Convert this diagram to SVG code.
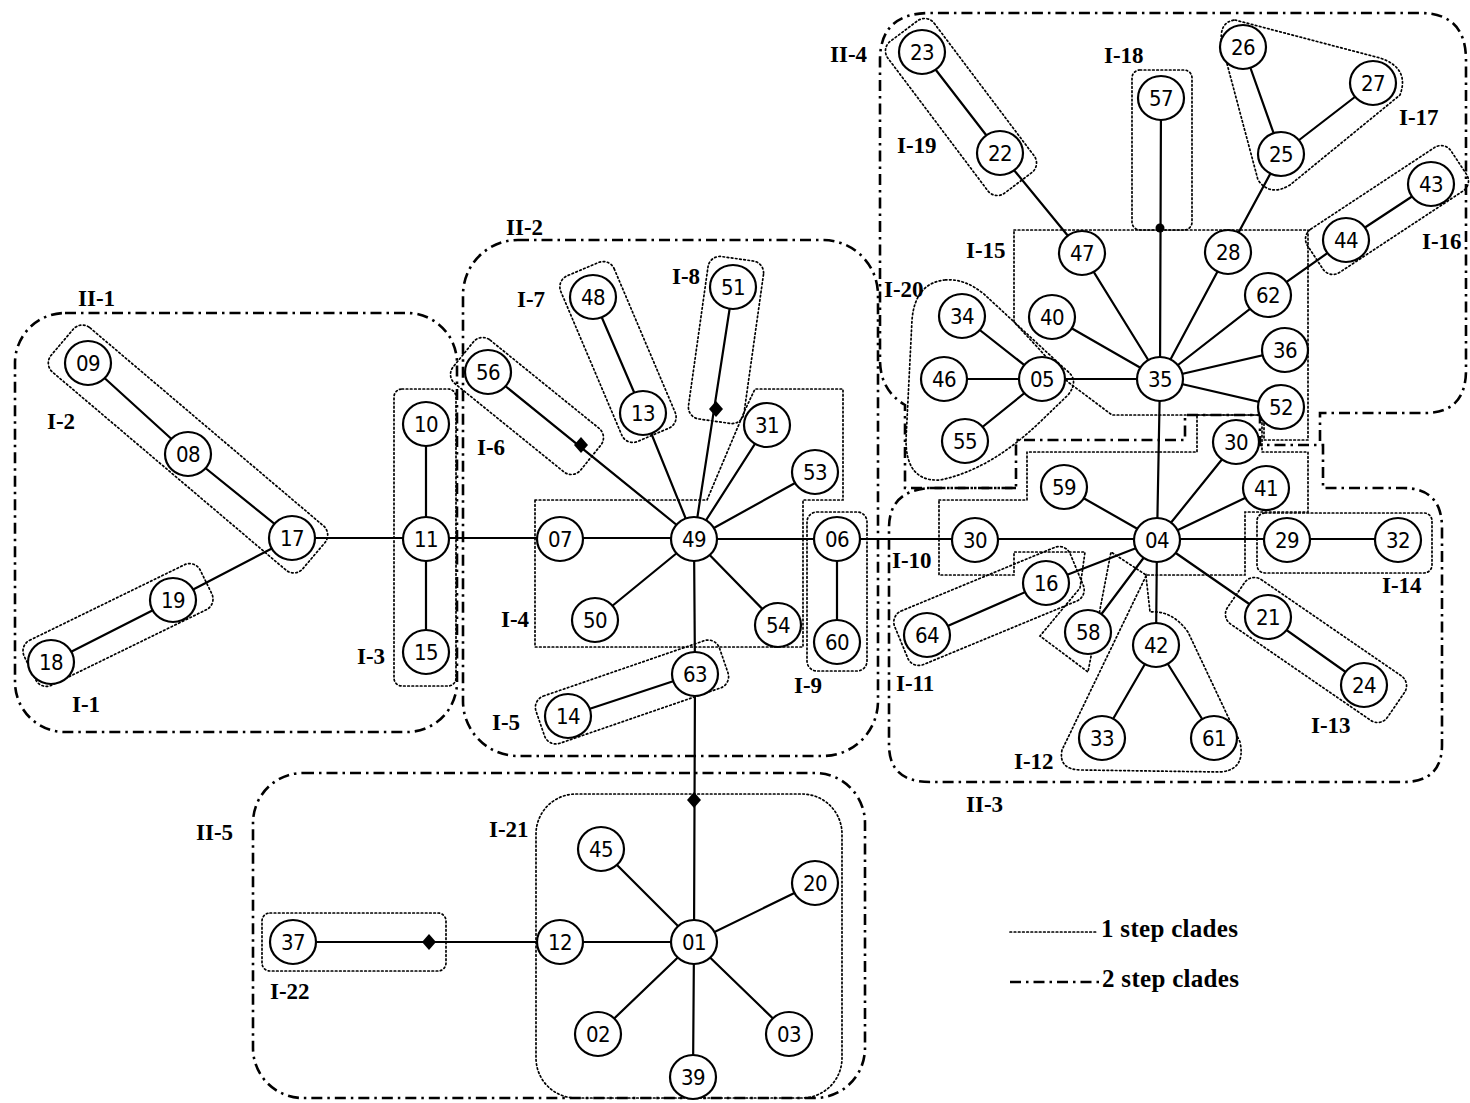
<svg xmlns="http://www.w3.org/2000/svg" width="1470" height="1103" viewBox="0 0 1470 1103">
<style>
.bg{fill:#fff}
.c1{fill:none;stroke:#000;stroke-width:1.7;stroke-dasharray:1.6 2.6;stroke-linecap:round}
.c2{fill:none;stroke:#000;stroke-width:2.6;stroke-dasharray:11 5 2.5 5}
.e{stroke:#000;stroke-width:2.2;fill:none}
.n use{fill:#fff;stroke:#000;stroke-width:2.2}
.n text{font-family:'DejaVu Sans Condensed','DejaVu Sans',sans-serif;font-stretch:condensed;font-size:22px;text-anchor:middle;fill:#000;letter-spacing:-0.5px}
.lb{font-family:'Liberation Serif','Times New Roman',serif;font-weight:bold;font-size:23px;fill:#000}
.lg{font-family:'Liberation Serif','Times New Roman',serif;font-weight:bold;font-size:25px;fill:#000;letter-spacing:0.3px}
.dm{fill:#000}
</style>
<defs>
<ellipse id="nd" rx="23" ry="22"/>
<path id="dia" d="M0,-8 L7,0 L0,8 L-7,0 Z"/>
</defs>
<rect class="bg" width="1470" height="1103"/>

<g id="clades2">
<rect class="c2" x="15" y="313" width="442" height="419" rx="50"/>
<rect class="c2" x="463" y="240" width="415" height="516" rx="55"/>
<rect class="c2" x="253" y="773" width="612" height="325" rx="50"/>
<path class="c2" d="M931,488 H1016 V440 H1185 V415 H1260 V445 H1323 V488 H1403 Q1442,488 1442,528 V745 Q1442,782 1403,782 H930 Q889,782 889,745 V528 Q889,490 931,488 Z"/>
<path class="c2" d="M1016,488 H905 V405 Q880,390 880,360 V60 Q880,13 930,13 H1420 Q1466,13 1466,60 V370 Q1466,413 1425,413 H1320 V445"/>
</g>

<g id="clades1">
<rect class="c1" x="-165" y="-29" width="330" height="58" rx="12" transform="translate(188,449) rotate(40.3)"/>
<rect class="c1" x="-98" y="-25" width="196" height="50" rx="12" transform="translate(118,625) rotate(-26)"/>
<rect class="c1" x="394" y="389" width="62" height="297" rx="8"/>
<rect class="c1" x="-82" y="-28" width="164" height="56" rx="12" transform="translate(527,406) rotate(39)"/>
<rect class="c1" x="-90" y="-29" width="180" height="58" rx="12" transform="translate(618,352) rotate(67)"/>
<rect class="c1" x="-82" y="-28" width="164" height="56" rx="12" transform="translate(726,340) rotate(98)"/>
<path class="c1" d="M535,500 H707 L745,410 L755,389 H843 V500 H803 V647 H535 Z"/>
<rect class="c1" x="807" y="512" width="60" height="159" rx="10"/>
<rect class="c1" x="-97" y="-25" width="194" height="50" rx="12" transform="translate(632,692) rotate(-19)"/>
<rect class="c1" x="536" y="794" width="306" height="304" rx="40"/>
<rect class="c1" x="262" y="913" width="184" height="58" rx="8"/>
<rect class="c1" x="-95" y="-29" width="190" height="58" rx="12" transform="translate(961,107) rotate(53)"/>
<rect class="c1" x="1132" y="70" width="60" height="160" rx="8"/>
<path class="c1" d="M1235,20 L1380,58 Q1410,68 1400,95 L1290,185 Q1270,197 1258,180 L1222,45 Q1218,22 1235,20 Z"/>
<rect class="c1" x="-86" y="-26" width="172" height="52" rx="12" transform="translate(1387,210) rotate(-33.4)"/>
<path class="c1" d="M1014,230 H1308 V440 H1264 V415 H1112 L1068,382 L1040,350 L1014,322 Z"/>
<path class="c1" d="M945,280 Q915,283 912,320 L906,440 Q906,482 940,480 Q990,470 1040,422 L1068,395 Q1080,380 1066,370 L985,295 Q965,278 945,280 Z"/>
<path class="c1" d="M939,500 H1027 V452 H1197 V415 H1262 V452 H1308 V512 H1245 V575 H1146 L1111,552 L1088,672 L1040,636 L1080,588 L1085,552 H1014 V575 H939 Z"/>
<rect class="c1" x="-95" y="-29" width="190" height="58" rx="12" transform="translate(989,606) rotate(-22.5)"/>
<path class="c1" d="M1146,576 L1062,750 Q1058,770 1082,770 L1220,772 Q1246,770 1240,742 L1188,632 Q1172,610 1150,612 Z"/>
<rect class="c1" x="-97" y="-27" width="194" height="54" rx="12" transform="translate(1316,650) rotate(34.5)"/>
<rect class="c1" x="1257" y="513" width="175" height="60" rx="8"/>
</g>

<g id="connectors">
<path class="e" d="M88,363 L188,454 L292,538 L173,600 L51,662"/>
<path class="e" d="M292,538 H694 M426,424 V652"/>
<path class="e" d="M694,539 L488,372 M694,539 L643,413 L593,297 M694,539 L733,287 M694,539 L767,425 M694,539 L815,472 M694,539 L595,620 M694,539 L778,625 M694,539 L837,539 L837,642 M694,539 L695,674 L568,716 M695,674 L694,942"/>
<path class="e" d="M694,942 L601,849 M694,942 L815,883 M694,942 L293,942 M694,942 L598,1034 M694,942 L789,1034 M694,942 L693,1077"/>
<path class="e" d="M837,539 H1398"/>
<path class="e" d="M1157,540 L1160,379 M1157,540 L1064,487 M1157,540 L1236,442 M1157,540 L1266,488 M1157,540 L1268,617 L1364,685 M1157,540 L1156,645 L1102,738 M1156,645 L1214,738 M1157,540 L1088,632 M1157,540 L1046,583 L927,635"/>
<path class="e" d="M1160,379 L1042,379 M1042,379 L962,316 M1042,379 L944,379 M1042,379 L965,441 M1160,379 L1052,317 M1160,379 L1082,253 L1000,153 L922,52 M1160,379 L1161,98 M1160,379 L1228,252 L1281,154 L1243,47 M1281,154 L1373,83 M1160,379 L1268,295 L1346,240 L1431,184 M1160,379 L1285,350 M1160,379 L1281,407"/>
<use href="#dia" class="dm" x="581" y="445"/>
<use href="#dia" class="dm" x="716" y="409"/>
<use href="#dia" class="dm" x="694" y="800"/>
<use href="#dia" class="dm" x="429" y="942"/>
<circle cx="1160" cy="228" r="4.5" class="dm"/>
</g>

<g id="nodes" class="n">
<g id="n09"><use href="#nd" x="88" y="363"/><text x="88" y="371">09</text></g>
<g id="n08"><use href="#nd" x="188" y="454"/><text x="188" y="462">08</text></g>
<g id="n17"><use href="#nd" x="292" y="538"/><text x="292" y="546">17</text></g>
<g id="n19"><use href="#nd" x="173" y="600"/><text x="173" y="608">19</text></g>
<g id="n18"><use href="#nd" x="51" y="662"/><text x="51" y="670">18</text></g>
<g id="n10"><use href="#nd" x="426" y="424"/><text x="426" y="432">10</text></g>
<g id="n11"><use href="#nd" x="426" y="539"/><text x="426" y="547">11</text></g>
<g id="n15"><use href="#nd" x="426" y="652"/><text x="426" y="660">15</text></g>
<g id="n56"><use href="#nd" x="488" y="372"/><text x="488" y="380">56</text></g>
<g id="n48"><use href="#nd" x="593" y="297"/><text x="593" y="305">48</text></g>
<g id="n13"><use href="#nd" x="643" y="413"/><text x="643" y="421">13</text></g>
<g id="n51"><use href="#nd" x="733" y="287"/><text x="733" y="295">51</text></g>
<g id="n31"><use href="#nd" x="767" y="425"/><text x="767" y="433">31</text></g>
<g id="n53"><use href="#nd" x="815" y="472"/><text x="815" y="480">53</text></g>
<g id="n07"><use href="#nd" x="560" y="539"/><text x="560" y="547">07</text></g>
<g id="n49"><use href="#nd" x="694" y="539"/><text x="694" y="547">49</text></g>
<g id="n50"><use href="#nd" x="595" y="620"/><text x="595" y="628">50</text></g>
<g id="n54"><use href="#nd" x="778" y="625"/><text x="778" y="633">54</text></g>
<g id="n06"><use href="#nd" x="837" y="539"/><text x="837" y="547">06</text></g>
<g id="n60"><use href="#nd" x="837" y="642"/><text x="837" y="650">60</text></g>
<g id="n63"><use href="#nd" x="695" y="674"/><text x="695" y="682">63</text></g>
<g id="n14"><use href="#nd" x="568" y="716"/><text x="568" y="724">14</text></g>
<g id="n01"><use href="#nd" x="694" y="942"/><text x="694" y="950">01</text></g>
<g id="n45"><use href="#nd" x="601" y="849"/><text x="601" y="857">45</text></g>
<g id="n20"><use href="#nd" x="815" y="883"/><text x="815" y="891">20</text></g>
<g id="n12"><use href="#nd" x="560" y="942"/><text x="560" y="950">12</text></g>
<g id="n02"><use href="#nd" x="598" y="1034"/><text x="598" y="1042">02</text></g>
<g id="n03"><use href="#nd" x="789" y="1034"/><text x="789" y="1042">03</text></g>
<g id="n39"><use href="#nd" x="693" y="1077"/><text x="693" y="1085">39</text></g>
<g id="n37"><use href="#nd" x="293" y="942"/><text x="293" y="950">37</text></g>
<g id="n23"><use href="#nd" x="922" y="52"/><text x="922" y="60">23</text></g>
<g id="n22"><use href="#nd" x="1000" y="153"/><text x="1000" y="161">22</text></g>
<g id="n57"><use href="#nd" x="1161" y="98"/><text x="1161" y="106">57</text></g>
<g id="n26"><use href="#nd" x="1243" y="47"/><text x="1243" y="55">26</text></g>
<g id="n27"><use href="#nd" x="1373" y="83"/><text x="1373" y="91">27</text></g>
<g id="n25"><use href="#nd" x="1281" y="154"/><text x="1281" y="162">25</text></g>
<g id="n43"><use href="#nd" x="1431" y="184"/><text x="1431" y="192">43</text></g>
<g id="n44"><use href="#nd" x="1346" y="240"/><text x="1346" y="248">44</text></g>
<g id="n47"><use href="#nd" x="1082" y="253"/><text x="1082" y="261">47</text></g>
<g id="n28"><use href="#nd" x="1228" y="252"/><text x="1228" y="260">28</text></g>
<g id="n62"><use href="#nd" x="1268" y="295"/><text x="1268" y="303">62</text></g>
<g id="n40"><use href="#nd" x="1052" y="317"/><text x="1052" y="325">40</text></g>
<g id="n34"><use href="#nd" x="962" y="316"/><text x="962" y="324">34</text></g>
<g id="n46"><use href="#nd" x="944" y="379"/><text x="944" y="387">46</text></g>
<g id="n05"><use href="#nd" x="1042" y="379"/><text x="1042" y="387">05</text></g>
<g id="n35"><use href="#nd" x="1160" y="379"/><text x="1160" y="387">35</text></g>
<g id="n36"><use href="#nd" x="1285" y="350"/><text x="1285" y="358">36</text></g>
<g id="n52"><use href="#nd" x="1281" y="407"/><text x="1281" y="415">52</text></g>
<g id="n55"><use href="#nd" x="965" y="441"/><text x="965" y="449">55</text></g>
<g id="n30a"><use href="#nd" x="1236" y="442"/><text x="1236" y="450">30</text></g>
<g id="n59"><use href="#nd" x="1064" y="487"/><text x="1064" y="495">59</text></g>
<g id="n41"><use href="#nd" x="1266" y="488"/><text x="1266" y="496">41</text></g>
<g id="n04"><use href="#nd" x="1157" y="540"/><text x="1157" y="548">04</text></g>
<g id="n30b"><use href="#nd" x="975" y="540"/><text x="975" y="548">30</text></g>
<g id="n29"><use href="#nd" x="1287" y="540"/><text x="1287" y="548">29</text></g>
<g id="n32"><use href="#nd" x="1398" y="540"/><text x="1398" y="548">32</text></g>
<g id="n16"><use href="#nd" x="1046" y="583"/><text x="1046" y="591">16</text></g>
<g id="n64"><use href="#nd" x="927" y="635"/><text x="927" y="643">64</text></g>
<g id="n58"><use href="#nd" x="1088" y="632"/><text x="1088" y="640">58</text></g>
<g id="n42"><use href="#nd" x="1156" y="645"/><text x="1156" y="653">42</text></g>
<g id="n21"><use href="#nd" x="1268" y="617"/><text x="1268" y="625">21</text></g>
<g id="n24"><use href="#nd" x="1364" y="685"/><text x="1364" y="693">24</text></g>
<g id="n33"><use href="#nd" x="1102" y="738"/><text x="1102" y="746">33</text></g>
<g id="n61"><use href="#nd" x="1214" y="738"/><text x="1214" y="746">61</text></g>
</g>

<g id="labels" class="lb">
<text x="78" y="306">II-1</text>
<text x="47" y="429">I-2</text>
<text x="72" y="712">I-1</text>
<text x="357" y="664">I-3</text>
<text x="506" y="235">II-2</text>
<text x="517" y="307">I-7</text>
<text x="672" y="284">I-8</text>
<text x="477" y="455">I-6</text>
<text x="501" y="627">I-4</text>
<text x="492" y="730">I-5</text>
<text x="794" y="693">I-9</text>
<text x="196" y="840">II-5</text>
<text x="489" y="837">I-21</text>
<text x="270" y="999">I-22</text>
<text x="830" y="62">II-4</text>
<text x="1104" y="63">I-18</text>
<text x="897" y="153">I-19</text>
<text x="1399" y="125">I-17</text>
<text x="1422" y="249">I-16</text>
<text x="966" y="258">I-15</text>
<text x="884" y="297">I-20</text>
<text x="892" y="568">I-10</text>
<text x="896" y="691">I-11</text>
<text x="1014" y="769">I-12</text>
<text x="1311" y="733">I-13</text>
<text x="1382" y="593">I-14</text>
<text x="966" y="812">II-3</text>
</g>

<g id="legend">
<line class="c1" x1="1010" y1="932" x2="1098" y2="932"/>
<text class="lg" x="1101" y="937">1 step clades</text>
<line class="c2" x1="1010" y1="982" x2="1100" y2="982"/>
<text class="lg" x="1102" y="987">2 step clades</text>
</g>
</svg>
